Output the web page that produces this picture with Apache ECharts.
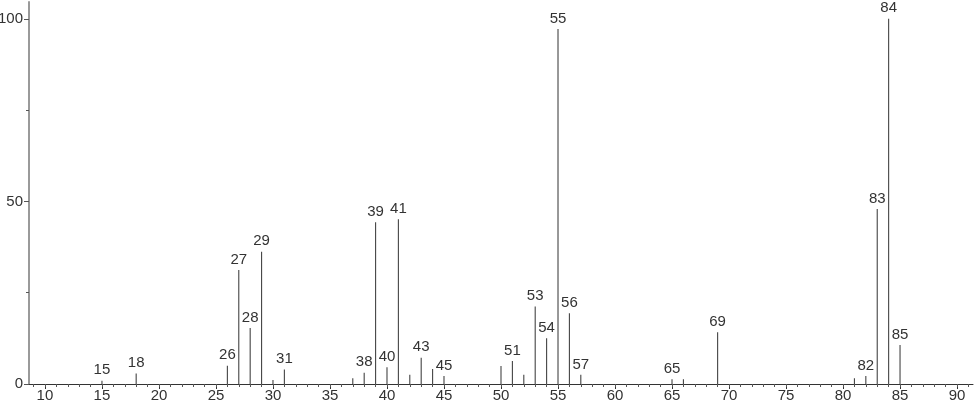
<!DOCTYPE html>
<html>
<head>
<meta charset="utf-8">
<script src="https://cdn.jsdelivr.net/npm/echarts@6/dist/echarts.min.js"></script>
<style>
html,body{margin:0;padding:0;background:#fff;}
#chart{width:974px;height:406px;}
</style>
</head>
<body>
<div id="chart"></div>
<script>
// m/z values of the peaks
const mz = [15, 18, 26, 27, 28, 29, 30, 31, 37, 38, 39, 40, 41, 42, 43, 44, 45, 50, 51, 52, 53, 54, 55, 56, 57, 65, 66, 69, 81, 82, 83, 84, 85];
// relative intensities
const intensity = [0.9, 2.9, 5.0, 31.2, 15.3, 36.2, 1.1, 4.0, 1.6, 3.1, 44.3, 4.6, 45.1, 2.5, 7.2, 4.1, 2.2, 4.9, 6.3, 2.5, 21.2, 12.5, 97.2, 19.4, 2.5, 1.3, 1.3, 14.2, 1.6, 2.2, 47.9, 100, 10.7];
// peaks that carry a label
const labeledPeaks = [15, 18, 26, 27, 28, 29, 31, 38, 39, 40, 41, 43, 45, 51, 53, 54, 55, 56, 57, 65, 69, 82, 83, 84, 85];
// axis tick labels
const xTickLabels = [10, 15, 20, 25, 30, 35, 40, 45, 50, 55, 60, 65, 70, 75, 80, 85, 90];
const xMinorTicks = [];
for (let v = 9; v <= 91; v++) xMinorTicks.push(v);
const yTickLabels = [0, 50, 100];
const yMinorTicks = [25, 75];

const X_MIN = 8.6, X_MAX = 91.4, Y_MIN = 0, Y_MAX = 104.6;
const FONT = '"Liberation Sans Narrow", "Liberation Sans", sans-serif';
const FONT_SIZE = 15;
const TEXT_COLOR = '#333';

const peakData = mz.map((m, i) => [m, intensity[i], labeledPeaks.indexOf(m) >= 0 ? 1 : 0]);

const chart = echarts.init(document.getElementById('chart'), null, {renderer: 'canvas'});

const baseX = {
  type: 'value', min: X_MIN, max: X_MAX, splitLine: {show: false}
};
const baseY = {
  type: 'value', min: Y_MIN, max: Y_MAX, splitLine: {show: false}
};

chart.setOption({
  animation: false,
  backgroundColor: '#fff',
  grid: {left: 29, right: 1, top: 2, bottom: 22, containLabel: false, outerBoundsMode: 'none'},
  xAxis: [
    Object.assign({}, baseX, {
      position: 'bottom',
      axisLine: {show: true, onZero: false, lineStyle: {color: '#333', width: 1}},
      axisTick: {show: true, inside: false, length: 5, lineStyle: {color: '#333'}, customValues: xTickLabels},
      axisLabel: {show: true, margin: 4, color: TEXT_COLOR, fontFamily: FONT, fontSize: FONT_SIZE, customValues: xTickLabels, formatter: v => String(v)}
    }),
    Object.assign({}, baseX, {
      position: 'bottom',
      axisLine: {show: false, onZero: false},
      axisTick: {show: true, inside: false, length: 3, lineStyle: {color: '#555'}, customValues: xMinorTicks},
      axisLabel: {show: false}
    })
  ],
  yAxis: [
    Object.assign({}, baseY, {
      position: 'left',
      axisLine: {show: true, onZero: false, lineStyle: {color: '#9a9a9a', width: 2}},
      axisTick: {show: true, inside: false, length: 5, lineStyle: {color: '#555'}, customValues: yTickLabels},
      axisLabel: {show: true, margin: 6, color: TEXT_COLOR, fontFamily: FONT, fontSize: FONT_SIZE, customValues: yTickLabels, formatter: v => String(v)}
    }),
    Object.assign({}, baseY, {
      position: 'left',
      axisLine: {show: false, onZero: false},
      axisTick: {show: true, inside: false, length: 3, lineStyle: {color: '#555'}, customValues: yMinorTicks},
      axisLabel: {show: false}
    })
  ],
  series: [{
    type: 'custom',
    xAxisIndex: 0,
    yAxisIndex: 0,
    data: peakData,
    clip: false,
    renderItem: function (params, api) {
      const x = api.value(0), y = api.value(1), lab = api.value(2);
      const p0 = api.coord([x, 0]);
      const p1 = api.coord([x, y]);
      const children = [{
        type: 'line',
        shape: {x1: p0[0], y1: p0[1], x2: p1[0], y2: p1[1]},
        style: {stroke: '#444', lineWidth: 1.1}
      }];
      if (lab) {
        children.push({
          type: 'text',
          x: p1[0],
          y: p1[1] - 3,
          style: {
            text: String(x),
            fill: TEXT_COLOR,
            fontFamily: FONT,
            fontSize: FONT_SIZE,
            align: 'center',
            verticalAlign: 'bottom'
          }
        });
      }
      return {type: 'group', children: children};
    }
  }]
});
</script>
</body>
</html>
